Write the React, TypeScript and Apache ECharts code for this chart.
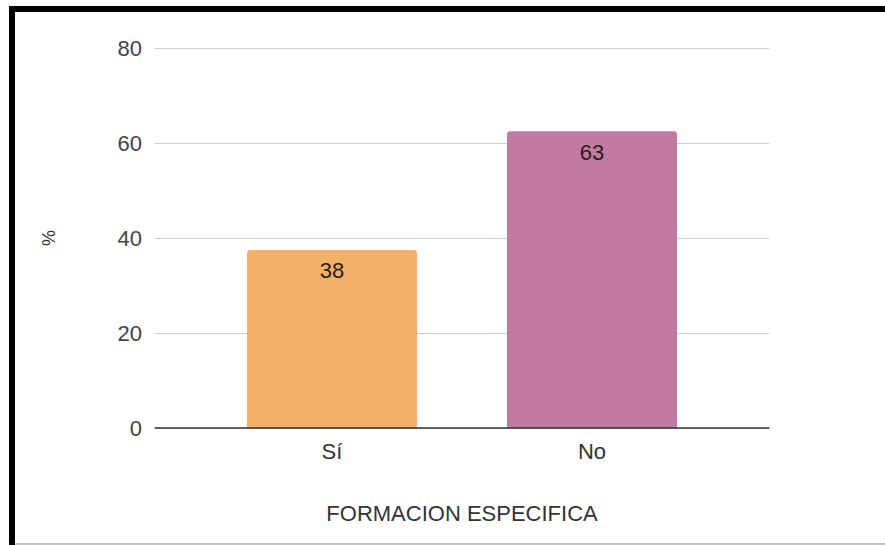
import React, { useEffect, useRef } from "react";
import * as echarts from "echarts";

const categories = ["Sí", "No"];
const values = [37.5, 62.5];
const barColors = ["#F5B068", "#C27AA0"];
const yTicks = { min: 0, max: 80, interval: 20 };
const xTitle = "FORMACION ESPECIFICA";
const yTitle = "%";

export default function App() {
  const ref = useRef<HTMLDivElement>(null);
  useEffect(() => {
    if (!ref.current) return;
    const chart = echarts.init(ref.current, undefined, { renderer: "svg" });
    const font = "Arial, 'Liberation Sans', sans-serif";
    chart.setOption({
      animation: false,
      backgroundColor: "#ffffff",
      grid: [
        { left: 155, right: 116, top: 48, height: 380 },
        { left: 202, right: 163, top: 48, height: 380 },
      ],
      xAxis: [
        {
          type: "category",
          gridIndex: 0,
          data: categories,
          axisLine: { show: true, lineStyle: { color: "#333", width: 1.5 } },
          axisTick: { show: false },
          axisLabel: { show: false },
          z: 5,
        },
        {
          type: "category",
          gridIndex: 1,
          data: categories,
          axisLine: { show: false },
          axisTick: { show: false },
          axisLabel: { color: "#333", fontSize: 22, fontFamily: font, margin: 12 },
          name: xTitle,
          nameLocation: "middle",
          nameGap: 74,
          nameTextStyle: { color: "#333", fontSize: 22, fontFamily: font },
        },
      ],
      yAxis: [
        {
          type: "value",
          gridIndex: 0,
          min: yTicks.min,
          max: yTicks.max,
          interval: yTicks.interval,
          axisLine: { show: false },
          axisTick: { show: false },
          axisLabel: { color: "#444", fontSize: 22, fontFamily: font, margin: 13 },
          splitLine: { lineStyle: { color: "#cccccc", width: 1 } },
          name: yTitle,
          nameLocation: "middle",
          nameRotate: 90,
          nameGap: 97,
          nameTextStyle: { color: "#333", fontSize: 18, fontFamily: font },
        },
        {
          type: "value",
          gridIndex: 1,
          min: yTicks.min,
          max: yTicks.max,
          interval: yTicks.interval,
          show: false,
          splitLine: { show: false },
        },
      ],
      series: [
        {
          type: "bar",
          xAxisIndex: 1,
          yAxisIndex: 1,
          barWidth: 170,
          z: 3,
          data: values.map((v, i) => ({
            value: v,
            itemStyle: { color: barColors[i], borderRadius: [3, 3, 0, 0] },
          })),
          label: {
            show: true,
            position: "insideTop",
            distance: 10,
            color: "#222",
            fontSize: 22,
            fontFamily: font,
            formatter: (p: any) => String(Math.round(p.value)),
          },
        },
      ],
      graphic: [
        { type: "rect", shape: { x: 9, y: 6, width: 876, height: 6 }, style: { fill: "#000" }, z: 100 },
        { type: "rect", shape: { x: 9, y: 6, width: 6, height: 539 }, style: { fill: "#000" }, z: 100 },
        { type: "rect", shape: { x: 15, y: 543, width: 870, height: 2 }, style: { fill: "#c4c4c4" }, z: 100 },
      ],
    });
    return () => chart.dispose();
  }, []);
  return (
    <div
      ref={ref}
      style={{ position: "fixed", left: 0, top: 0, width: 885, height: 545 }}
    />
  );
}
